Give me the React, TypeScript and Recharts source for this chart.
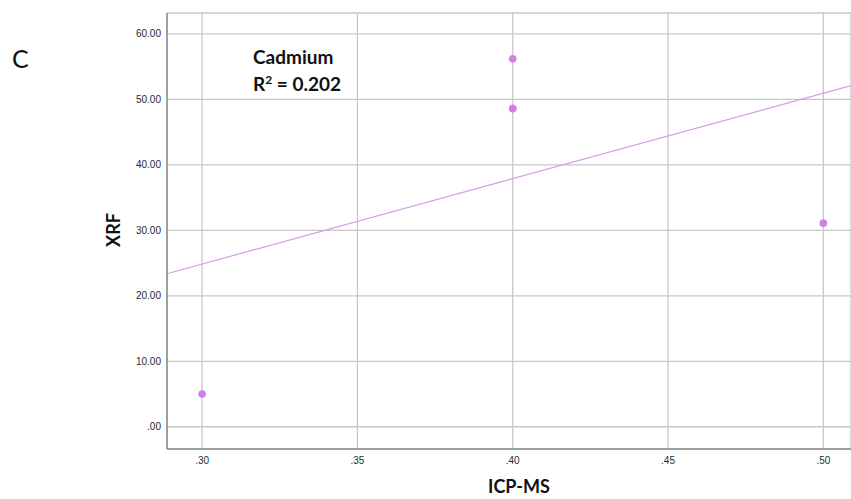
import React from "react";
import {
  ScatterChart,
  Scatter,
  XAxis,
  YAxis,
  CartesianGrid,
  ReferenceLine,
} from "recharts";

// Cadmium: ICP-MS vs XRF measurements
const icpMs = [0.3, 0.4, 0.4, 0.4, 0.5];
const xrf = [5.0, 56.2, 48.6, 48.6, 31.1];
const xTicks = [0.3, 0.35, 0.4, 0.45, 0.5];
const yTicks = [0, 10, 20, 30, 40, 50, 60];
const xDomain: [number, number] = [0.2887, 0.5089];
const yDomain: [number, number] = [-3.4, 63.2];

const points = icpMs.map((x, i) => ({ x, y: xrf[i] }));

// least-squares fit line
const n = icpMs.length;
const mx = icpMs.reduce((a, b) => a + b, 0) / n;
const my = xrf.reduce((a, b) => a + b, 0) / n;
let sxy = 0;
let sxx = 0;
for (let i = 0; i < n; i++) {
  sxy += (icpMs[i] - mx) * (xrf[i] - my);
  sxx += (icpMs[i] - mx) ** 2;
}
const slope = sxy / sxx;
const intercept = my - slope * mx;
const fit = (x: number) => intercept + slope * x;

const fmt = (v: number) => {
  const s = v.toFixed(2);
  return s.startsWith("0") ? s.slice(1) : s;
};

const tickStyle = { fontFamily: "'Liberation Sans', Arial, sans-serif", fontSize: 10, fill: "#2a2a2a" };

export default function App() {
  return (
    <div style={{ position: "absolute", left: 0, top: 0, width: 851, height: 499, background: "#fff" }}>
      <ScatterChart width={851} height={499} margin={{ top: 13, right: 0, bottom: 0, left: 100 }}>
        <CartesianGrid stroke="#c8c8c8" strokeWidth={1.3} />
        <XAxis
          type="number"
          dataKey="x"
          domain={xDomain}
          ticks={xTicks}
          tickFormatter={fmt}
          allowDataOverflow
          height={50}
          tickLine={false}
          tickSize={0}
          tickMargin={8}
          axisLine={{ stroke: "#8c8c8c", strokeWidth: 1.5 }}
          tick={tickStyle}
        />
        <YAxis
          type="number"
          dataKey="y"
          domain={yDomain}
          ticks={yTicks}
          tickFormatter={fmt}
          allowDataOverflow
          width={67}
          tickLine={false}
          tickSize={0}
          tickMargin={6}
          axisLine={{ stroke: "#8c8c8c", strokeWidth: 1.5 }}
          tick={tickStyle}
        />
        <ReferenceLine
          segment={[
            { x: xDomain[0], y: fit(xDomain[0]) },
            { x: xDomain[1], y: fit(xDomain[1]) },
          ]}
          stroke="#d79ae8"
          strokeWidth={1.2}
          ifOverflow="visible"
        />
        <Scatter data={points} fill="#cf7fe5" isAnimationActive={false} shape={(p: any) => <circle cx={p.cx} cy={p.cy} r={3.8} fill="#cf7fe5" />} />
      </ScatterChart>
      <div style={{ position: "absolute", left: 12, top: 43, fontFamily: "Lato, 'Open Sans', sans-serif", fontSize: 25, color: "#111" }}>C</div>
      <div
        style={{
          position: "absolute",
          left: 253,
          top: 43,
          fontFamily: "Lato, 'Open Sans', sans-serif",
          fontWeight: 700,
          fontSize: 19,
          lineHeight: "27px",
          color: "#111",
        }}
      >
        <div>Cadmium</div>
        <div>
          R<sup style={{ fontSize: 12, verticalAlign: "7px", lineHeight: 0 }}>2</sup> = 0.202
        </div>
      </div>
      <div
        style={{
          position: "absolute",
          left: 519,
          top: 475,
          transform: "translateX(-50%)",
          fontFamily: "Lato, 'Open Sans', sans-serif",
          fontWeight: 700,
          fontSize: 18,
          color: "#111",
        }}
      >
        ICP-MS
      </div>
      <div
        style={{
          position: "absolute",
          left: 113,
          top: 230,
          transform: "translate(-50%, -50%) rotate(-90deg)",
          fontFamily: "Lato, 'Open Sans', sans-serif",
          fontWeight: 700,
          fontSize: 18,
          color: "#111",
        }}
      >
        XRF
      </div>
    </div>
  );
}
